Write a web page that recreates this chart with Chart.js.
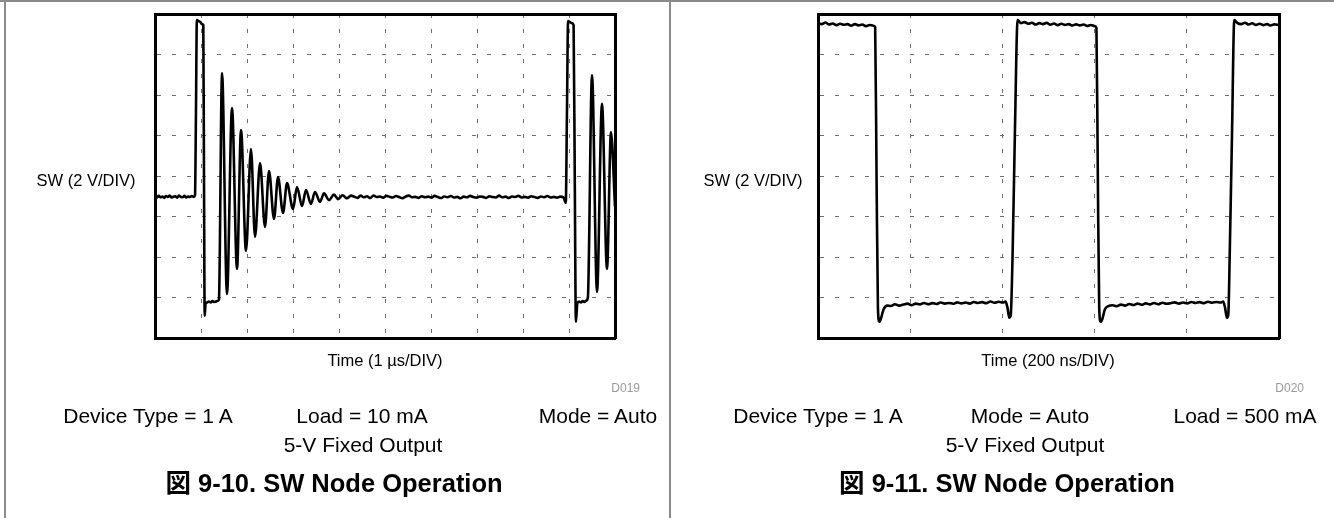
<!DOCTYPE html>
<html>
<head>
<meta charset="utf-8">
<script src="https://cdn.jsdelivr.net/npm/chart.js@4.4.1/dist/chart.umd.min.js"></script>
<style>
  html, body { margin: 0; padding: 0; background: #fff; }
  body { width: 1334px; height: 518px; position: relative; overflow: hidden;
         font-family: "Liberation Sans", Arial, "Noto Sans CJK JP", sans-serif; color: #000; }
  canvas { position: absolute; top: 0; }
  .t { position: absolute; white-space: nowrap; transform: translate(-50%, -50%); line-height: 1; }
  .axis { font-size: 16.5px; }
  .code { font-size: 12px; color: #9a9a9a; transform: translate(-100%, -50%); }
  .note { font-size: 21px; }
  .title { font-size: 25.5px; font-weight: bold; }
  .rule { position: absolute; background: #8a8a8a; }
</style>
</head>
<body>
<div class="rule" style="left:0;top:0;width:1334px;height:2px"></div>
<div class="rule" style="left:4px;top:0;width:2px;height:518px"></div>
<div class="rule" style="left:669px;top:0;width:2px;height:518px"></div>
<canvas id="left" width="667" height="518" style="left:0"></canvas>
<canvas id="right" width="667" height="518" style="left:667px"></canvas>
<div id="labels"></div>
<script>
// ---------- data ----------
// Left panel: SW node, 1 us/DIV, 2 V/DIV (time in us, voltage in V)
const leftTimeUs = [
  0, 0.04, 0.08, 0.12, 0.16, 0.20, 0.24, 0.28, 0.32, 0.36, 0.40, 0.44, 0.48, 0.52, 0.56, 0.60, 0.64, 0.68, 0.72, 0.76, 0.80, 0.84, 0.87,
  0.89, 0.91, 0.95, 0.99, 1.02, 1.05, 1.065, 1.08, 1.10, 1.13, 1.17, 1.21, 1.25, 1.29, 1.33, 1.37,
  1.39, 1.457, 1.565, 1.674, 1.783, 1.870, 1.978, 2.087, 2.174, 2.283, 2.391, 2.478, 2.587, 2.674, 2.783,
  2.870, 3.000, 3.087, 3.196, 3.283, 3.390, 3.478, 3.587, 3.674, 3.783, 3.891, 3.980, 4.080, 4.170, 4.260,
  4.33, 4.40, 4.47, 4.54, 4.61, 4.68, 4.75, 4.82, 4.89, 4.96, 5.03,
  5.10, 5.17, 5.24, 5.31, 5.38, 5.45, 5.52, 5.59, 5.66, 5.73, 5.80,
  5.87, 5.94, 6.01, 6.08, 6.15, 6.22, 6.29, 6.36, 6.43, 6.50, 6.57,
  6.64, 6.71, 6.78, 6.85, 6.92, 6.99, 7.06, 7.13, 7.20, 7.27, 7.34,
  7.41, 7.48, 7.55, 7.62, 7.69, 7.76, 7.83, 7.90, 7.97, 8.04, 8.11,
  8.18, 8.25, 8.32, 8.39, 8.46, 8.53, 8.60, 8.67, 8.74, 8.81, 8.88,
  8.93, 8.955, 8.98, 9.02, 9.06, 9.10, 9.125, 9.15, 9.18, 9.22, 9.26, 9.30, 9.34, 9.38,
  9.41, 9.50, 9.609, 9.717, 9.826, 9.913, 10.0
];
const leftSwVolts = [
  4.98, 4.93, 5.02, 4.95, 4.99, 4.92, 5.01, 4.96, 5.04, 4.94, 4.98, 5.00, 4.93, 5.03, 4.97, 4.95, 5.02, 4.94, 4.99, 4.96, 5.01, 4.97, 5.05,
  9.0, 13.7, 13.65, 13.6, 13.5, 13.45, 6.0, -0.9, -0.3, -0.25, -0.2, -0.24, -0.18, -0.22, -0.2, -0.16,
  -0.1, 11.09, 0.17, 9.36, 1.41, 8.27, 2.30, 7.33, 2.99, 6.64, 3.48, 6.25, 3.88, 5.95, 4.17,
  5.65, 4.37, 5.46, 4.52, 5.31, 4.62, 5.21, 4.72, 5.14, 4.81, 5.08, 4.86, 5.05, 4.90, 5.03,
  4.98, 4.92, 5.03, 4.95, 5.00, 4.91, 5.04, 4.96, 4.99, 4.93, 5.02,
  4.97, 4.94, 5.01, 4.96, 4.90, 4.99, 5.03, 4.95, 4.97, 4.92, 5.00,
  4.95, 4.98, 4.93, 5.02, 4.96, 4.91, 4.99, 4.95, 5.01, 4.94, 4.97,
  4.90, 4.98, 4.95, 5.02, 4.96, 4.93, 4.99, 4.97, 4.92, 5.00, 4.96,
  4.94, 5.03, 4.95, 4.98, 4.91, 4.99, 4.96, 5.02, 4.94, 4.97, 4.93,
  5.00, 4.96, 4.92, 4.99, 4.95, 5.01, 4.94, 4.97, 4.93, 4.98, 4.95,
  4.67, 9.0, 13.65, 13.6, 13.55, 13.45, 6.0, -1.2, -0.3, -0.2, -0.25, -0.18, -0.22, -0.15,
  0.0, 10.99, 0.27, 9.56, 1.41, 8.17, 4.5
];

// Right panel: SW node, 200 ns/DIV, 2 V/DIV (time in ns, voltage in V)
const rightTimeNs = [
  0, 8, 16, 24, 32, 40, 48, 56, 64, 72, 80, 88, 96, 104, 112, 120, 124,
  127, 130, 133, 137, 142, 150,
  158, 167, 176, 185, 194, 203, 212, 221, 230, 239, 248, 257, 266, 275, 284, 293, 302, 311, 320, 329, 338, 347, 356, 365, 374, 383, 392, 401, 407,
  411, 415, 418, 422, 427, 433, 440,
  448, 456, 464, 472, 480, 488, 496, 504, 512, 520, 528, 536, 544, 552, 560, 568, 576, 584, 592, 600,
  604, 607, 610, 613, 617, 622, 630,
  639, 648, 657, 666, 675, 684, 693, 702, 711, 720, 729, 738, 747, 756, 765, 774, 783, 792, 801, 810, 819, 828, 837, 846, 855, 864, 873, 879,
  883, 887, 890, 893, 898, 903, 910,
  918, 926, 934, 942, 950, 958, 966, 974, 982, 990, 1000
];
const rightSwVolts = [
  13.55, 13.50, 13.58, 13.48, 13.53, 13.45, 13.52, 13.47, 13.50, 13.42, 13.50, 13.44, 13.48, 13.40, 13.46, 13.42, 13.35,
  6.0, -0.5, -1.2, -1.0, -0.6, -0.4,
  -0.42, -0.33, -0.40, -0.35, -0.30, -0.38, -0.30, -0.34, -0.27, -0.33, -0.28, -0.32, -0.25, -0.30, -0.27, -0.31, -0.24, -0.29, -0.25, -0.30, -0.22, -0.27, -0.23, -0.28, -0.20, -0.26, -0.21, -0.25, -0.20,
  -0.5, -1.0, -0.9, 2.0, 8.0, 13.7, 13.55,
  13.60, 13.52, 13.57, 13.48, 13.55, 13.50, 13.56, 13.47, 13.53, 13.45, 13.52, 13.46, 13.50, 13.43, 13.49, 13.44, 13.48, 13.41, 13.46, 13.40,
  13.3, 6.0, -0.5, -1.2, -1.05, -0.6, -0.42,
  -0.38, -0.43, -0.35, -0.40, -0.32, -0.37, -0.30, -0.36, -0.29, -0.34, -0.27, -0.33, -0.26, -0.31, -0.28, -0.24, -0.30, -0.25, -0.29, -0.22, -0.27, -0.23, -0.28, -0.21, -0.26, -0.22, -0.25, -0.20,
  -0.5, -1.0, -0.85, 2.0, 8.0, 13.7, 13.55,
  13.50, 13.57, 13.48, 13.54, 13.46, 13.52, 13.45, 13.50, 13.43, 13.49, 13.45
];

// Axis ranges / divisions
const leftTimeRangeUs = [0, 10];     // 10 DIV x 1 us
const leftTimeStepUs = 1;
const rightTimeRangeNs = [0, 1000];  // 5 DIV x 200 ns
const rightTimeStepNs = 200;
const voltRange = [-2, 14];          // 8 DIV x 2 V
const voltStep = 2;

// Texts
const yAxisLabel = 'SW (2 V/DIV)';
const leftXLabel = 'Time (1 \u00B5s/DIV)';
const rightXLabel = 'Time (200 ns/DIV)';
const leftCode = 'D019';
const rightCode = 'D020';
const leftNotes = ['Device Type = 1 A', 'Load = 10 mA', 'Mode = Auto'];
const rightNotes = ['Device Type = 1 A', 'Mode = Auto', 'Load = 500 mA'];
const outputNote = '5-V Fixed Output';
const leftTitle = '\u56F3 9-10. SW Node Operation';
const rightTitle = '\u56F3 9-11. SW Node Operation';

// ---------- charts ----------
function makeScope(canvasId, times, volts, xRange, xStep, pad) {
  const pts = times.map((t, i) => ({ x: t, y: volts[i] }));
  const gridCol = '#707070';
  const dash = [4, 11];
  const frame = { display: true, color: '#000', width: 3 };
  return new Chart(document.getElementById(canvasId), {
    type: 'line',
    data: { datasets: [{
      data: pts, borderColor: '#000', borderWidth: 2.6, pointRadius: 0,
      cubicInterpolationMode: 'monotone', fill: false
    }]},
    options: {
      responsive: false, animation: false, events: [],
      layout: { padding: pad },
      plugins: { legend: { display: false }, tooltip: { enabled: false } },
      scales: {
        x: { type: 'linear', min: xRange[0], max: xRange[1],
             ticks: { display: false, stepSize: xStep },
             grid: { color: gridCol, lineWidth: 1, drawTicks: false },
             border: Object.assign({ dash: dash }, frame) },
        xTop: { type: 'linear', position: 'top', min: xRange[0], max: xRange[1],
             ticks: { display: false }, grid: { display: false, drawTicks: false },
             border: frame },
        y: { type: 'linear', min: voltRange[0], max: voltRange[1],
             ticks: { display: false, stepSize: voltStep },
             grid: { color: gridCol, lineWidth: 1, drawTicks: false },
             border: Object.assign({ dash: dash }, frame) },
        yRight: { type: 'linear', position: 'right', min: voltRange[0], max: voltRange[1],
             ticks: { display: false }, grid: { display: false, drawTicks: false },
             border: frame }
      }
    }
  });
}
makeScope('left', leftTimeUs, leftSwVolts, leftTimeRangeUs, leftTimeStepUs,
          { left: 155, top: 14, right: 52, bottom: 180 });
makeScope('right', rightTimeNs, rightSwVolts, rightTimeRangeNs, rightTimeStepNs,
          { left: 151, top: 14, right: 55, bottom: 180 });

// ---------- text ----------
const labels = document.getElementById('labels');
function addText(txt, cls, x, y) {
  const d = document.createElement('div');
  d.className = 't ' + cls;
  d.textContent = txt;
  d.style.left = x + 'px';
  d.style.top = y + 'px';
  labels.appendChild(d);
}
addText(yAxisLabel, 'axis', 86, 180);
addText(leftXLabel, 'axis', 385, 360);
addText(leftCode, 'code', 640, 388);
addText(leftNotes[0], 'note', 148, 415);
addText(leftNotes[1], 'note', 362, 415);
addText(leftNotes[2], 'note', 598, 415);
addText(outputNote, 'note', 363, 444);
addText(leftTitle, 'title', 334, 484);

addText(yAxisLabel, 'axis', 753, 180);
addText(rightXLabel, 'axis', 1048, 360);
addText(rightCode, 'code', 1304, 388);
addText(rightNotes[0], 'note', 818, 415);
addText(rightNotes[1], 'note', 1030, 415);
addText(rightNotes[2], 'note', 1245, 415);
addText(outputNote, 'note', 1025, 444);
addText(rightTitle, 'title', 1007, 484);
</script>
</body>
</html>
